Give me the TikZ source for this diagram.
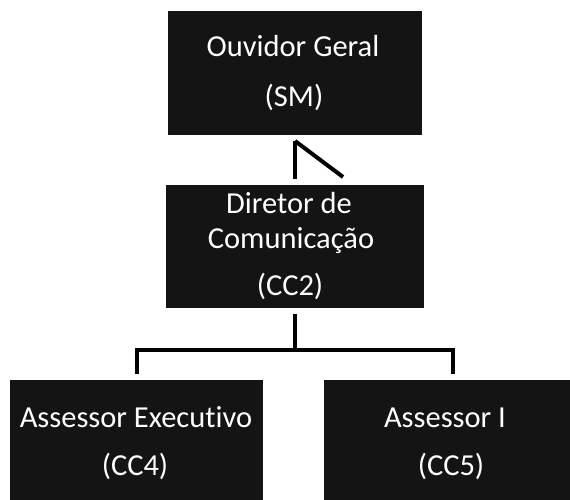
\documentclass[tikz,border=0pt]{standalone}
\usepackage{fontspec}
\setmainfont{Carlito}[Ligatures={NoCommon}]
\usepackage{tikz}

\begin{document}
\begin{tikzpicture}[x=1pt, y=-1pt,
    cargo/.style={fill=black!92, inner sep=0pt, outer sep=0pt},
    rotulo/.style={anchor=base, text=white, inner sep=0pt, font=\fontsize{30.5}{36}\selectfont},
    liga/.style={line width=4pt, shorten <=6pt, shorten >=6pt}]
  \useasboundingbox (0,0) rectangle (570,500);
  % caixas
  \node[cargo, minimum width=254pt, minimum height=124pt] (ouvidor) at (295,73) {};
  \node[cargo, minimum width=258pt, minimum height=123pt] (diretor) at (295,246.5) {};
  \node[cargo, minimum width=253pt, minimum height=120pt] (asexec) at (136.5,440) {};
  \node[cargo, minimum width=246pt, minimum height=120pt] (asI) at (447,440) {};
  % textos
  \node[rotulo] (ouv1) at (293,57) {Ouvidor Geral};
  \node[rotulo] (ouv2) at (294,107) {(SM)};
  \node[rotulo] (dir1) at (289,213) {Diretor de};
  \node[rotulo] (dir2) at (291,248) {Comunicação};
  \node[rotulo] (dir3) at (290,295) {(CC2)};
  \node[rotulo] (ase1) at (136,427) {Assessor Executivo};
  \node[rotulo] (ase2) at (135,475) {(CC4)};
  \node[rotulo] (asi1) at (445,427) {Assessor I};
  \node[rotulo] (asi2) at (451,475) {(CC5)};
  % ligacoes
  \coordinate (ponta) at (343,177);
  \draw[liga] (ouvidor.south) -- (diretor.north);
  \draw[line width=4pt] (ouvidor.south) ++(0,6) -- (ponta);
  \draw[liga] (diretor.south) -- ++(0,42) -| (asexec.north);
  \draw[liga] (diretor.south) -- ++(0,42) -| ([xshift=6pt]asI.north);
\end{tikzpicture}
\end{document}
